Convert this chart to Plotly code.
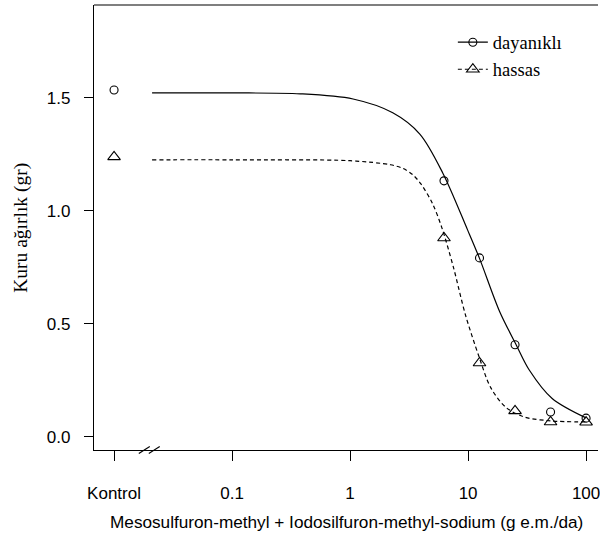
import plotly.graph_objects as go

# Observed dry weight per dose (Kontrol plotted at 0.01 on the log axis)
doses = [0.01, 6.25, 12.5, 25, 50, 100]
dayanikli_obs = [1.535, 1.133, 0.792, 0.408, 0.110, 0.083]
hassas_obs = [1.239, 0.880, 0.327, 0.115, 0.066, 0.065]

# Fitted dose-response curves (dose, predicted weight)
dayanikli_fit_dose = [0.021, 0.1, 0.38, 1.06, 2.3, 3.9, 6.1, 9.9, 12.5, 18.5, 25.6, 33, 51.6, 100]
dayanikli_fit = [1.522, 1.522, 1.518, 1.495, 1.434, 1.340, 1.168, 0.916, 0.790, 0.555, 0.407, 0.296, 0.170, 0.084]
hassas_fit_dose = [0.021, 0.1, 1.0, 2.2, 2.8, 3.4, 4.0, 5.0, 6.0, 7.5, 9.5, 12.4, 15.6, 21, 30, 50, 100]
hassas_fit = [1.226, 1.226, 1.222, 1.204, 1.188, 1.160, 1.118, 1.032, 0.925, 0.752, 0.540, 0.354, 0.217, 0.130, 0.088, 0.071, 0.066]

tick_vals = [0.01, 0.1, 1, 10, 100]
tick_text = ["Kontrol", "0.1", "1", "10", "100"]
y_ticks = [0.0, 0.5, 1.0, 1.5]

W, H = 600, 544
L, R, T, B = 94, 0, 5, 94

sans = "Liberation Sans, Arial, sans-serif"
serif = "Liberation Serif, Times New Roman, serif"

fig = go.Figure()

fig.add_trace(go.Scatter(
    x=dayanikli_fit_dose, y=dayanikli_fit, mode="lines",
    line=dict(color="black", width=1.2, shape="spline", smoothing=0.9),
    showlegend=False, hoverinfo="skip"))
fig.add_trace(go.Scatter(
    x=hassas_fit_dose, y=hassas_fit, mode="lines",
    line=dict(color="black", width=1.2, dash="4px,3px", shape="spline", smoothing=0.9),
    showlegend=False, hoverinfo="skip"))

fig.add_trace(go.Scatter(
    x=doses, y=dayanikli_obs, mode="markers", name="dayanıklı",
    marker=dict(symbol="circle-open", size=8, color="black", line=dict(width=1.1)),
    showlegend=False))
fig.add_trace(go.Scatter(
    x=doses, y=hassas_obs, mode="markers", name="hassas",
    marker=dict(symbol="triangle-up-open", size=11, color="black", line=dict(width=1.1)),
    showlegend=False))

# legend entries: line with centred symbol
fig.add_trace(go.Scatter(
    x=[None], y=[None], mode="lines+markers", name="dayanıklı",
    line=dict(color="black", width=1.2),
    marker=dict(symbol="circle-open", size=8, color="black", line=dict(width=1.1))))
fig.add_trace(go.Scatter(
    x=[None], y=[None], mode="lines+markers", name="hassas",
    line=dict(color="black", width=1.2, dash="4px,3px"),
    marker=dict(symbol="triangle-up-open", size=11, color="black", line=dict(width=1.1))))

x_lo, x_hi = -2.17, 2.101
y_lo, y_hi = -0.058, 1.911

fig.update_layout(
    width=W, height=H,
    margin=dict(l=L, r=R, t=T, b=B, pad=0),
    paper_bgcolor="white", plot_bgcolor="white",
    showlegend=True,
    legend=dict(
        x=0.712, y=0.958, xanchor="left", yanchor="top",
        font=dict(family=serif, size=18.5, color="black"),
        bgcolor="rgba(0,0,0,0)", itemwidth=30, tracegroupgap=0,
    ),
    xaxis=dict(
        type="log", range=[x_lo, x_hi],
        tickmode="array", tickvals=tick_vals, ticktext=tick_text,
        ticks="outside", ticklen=10, tickwidth=1.2, tickcolor="black",
        ticklabelstandoff=17, ticklabeloverflow="allow",
        tickfont=dict(family=sans, size=17, color="black"),
        showgrid=False, zeroline=False,
        showline=True, linecolor="black", linewidth=1.2, mirror=False,
    ),
    yaxis=dict(
        range=[y_lo, y_hi],
        tickmode="array", tickvals=y_ticks, tickformat=".1f",
        ticks="outside", ticklen=9, tickwidth=1.2, tickcolor="black",
        ticklabelstandoff=10,
        tickfont=dict(family=sans, size=17, color="black"),
        showgrid=False, zeroline=False,
        showline=True, linecolor="black", linewidth=1.2, mirror=False,
    ),
)

# top border of the plotting box
fig.add_shape(type="line", xref="paper", yref="paper", x0=0, x1=1, y0=1, y1=1,
              line=dict(color="black", width=1.2))

# axis-break marks between Kontrol and the dose range
pw = W - L - R
def px_to_paper(px):
    return (px - L) / pw
for x0 in (139, 149):
    fig.add_shape(type="line", xref="paper", yref="paper",
                  x0=px_to_paper(x0), x1=px_to_paper(x0 + 11),
                  y0=-0.008, y1=0.008,
                  line=dict(color="black", width=1.1))

fig.add_annotation(
    text="Kuru ağırlık (gr)", xref="paper", yref="paper",
    x=(20 - L) / pw, y=0.5, textangle=-90, showarrow=False,
    xanchor="center", yanchor="middle",
    font=dict(family=serif, size=19.5, color="black"))

fig.add_annotation(
    text="Mesosulfuron-methyl + Iodosilfuron-methyl-sodium (g e.m./da)",
    xref="paper", yref="paper",
    x=px_to_paper(348), y=-(522 - (H - B)) / (H - T - B),
    showarrow=False, xanchor="center", yanchor="middle",
    font=dict(family=sans, size=17.2, color="black"))

fig.write_html("out.html")
